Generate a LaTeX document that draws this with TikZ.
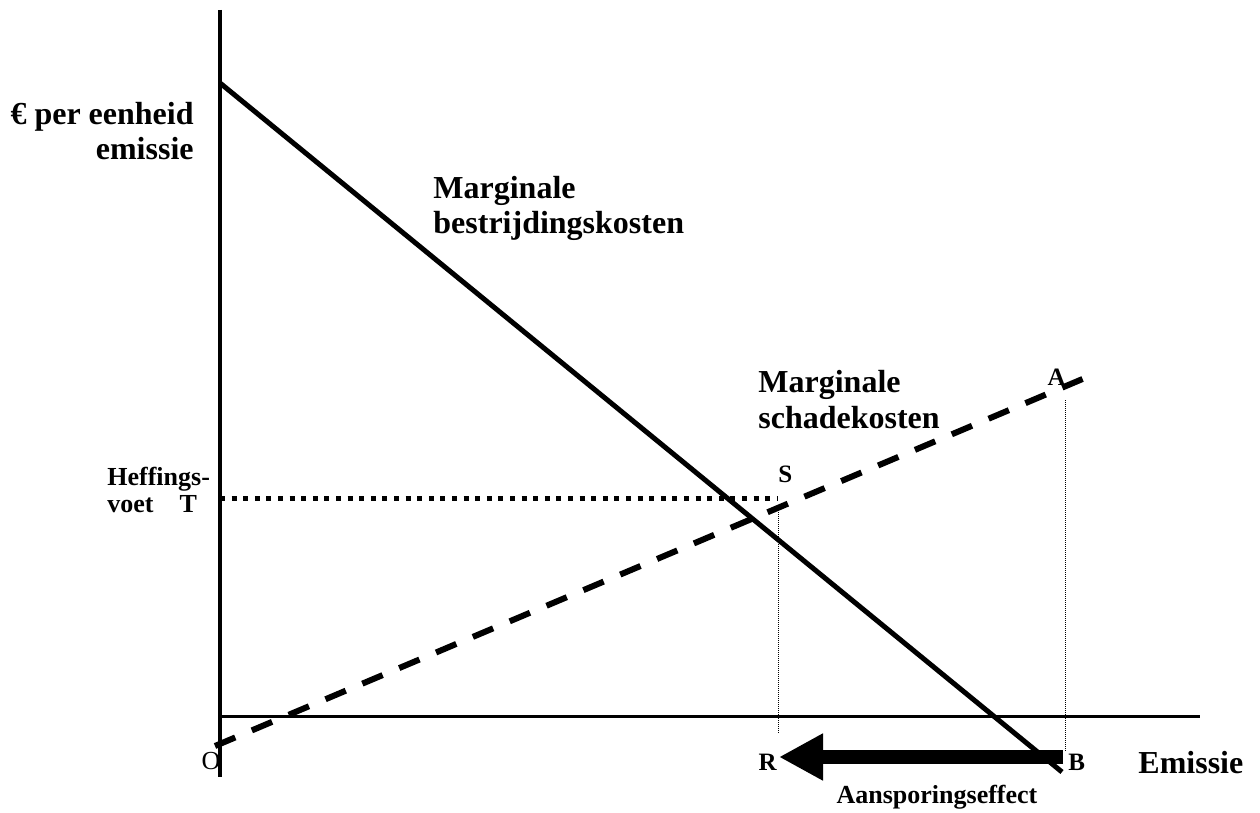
\documentclass[tikz,border=0pt]{standalone}
\usepackage{fontspec}
\setmainfont{Liberation Serif}
\usetikzlibrary{arrows.meta}

\begin{document}
\begin{tikzpicture}[x=0.5pt, y=-0.5pt]


\tikzstyle{axis_style} = [draw=black, line width=2]
\tikzstyle{xaxis_style} = [draw=black, line width=1.5]
\tikzstyle{mbk_style} = [draw=black, line width=2.5]
\tikzstyle{msk_style} = [draw=black, line width=3, dash pattern=on 11pt off 9pt]
\tikzstyle{tax_style} = [draw=black, line width=2.5, dash pattern=on 2.5pt off 3.3pt]
\tikzstyle{guide_style} = [draw=black, line width=0.5, dash pattern=on 0.5pt off 0.5pt]
\tikzstyle{arrow_style} = [draw=black, line width=7, -{Triangle[length=22pt, width=22pt]}]
\tikzstyle{label_style} = [inner sep=0pt, font=\bfseries\fontsize{16}{17.5}\selectfont]
\tikzstyle{small_style} = [inner sep=0pt, font=\bfseries\fontsize{13}{13.5}\selectfont]
\tikzstyle{point_style} = [inner sep=0pt, font=\bfseries\fontsize{12.5}{14}\selectfont]

\useasboundingbox (0,0) rectangle (1260,813);

% axes
\coordinate (ytop) at (220,10);
\coordinate (ybot) at (220,777);
\coordinate (xstart) at (220,716);
\coordinate (xend) at (1200,716);

% curves
\coordinate (mbk0) at (220,83);
\coordinate (mbk1) at (1062,772);
\coordinate (msk0) at (215,746);
\coordinate (msk1) at (1092,375);

% guides
\coordinate (t0) at (220,498);
\coordinate (t1) at (778,498);
\coordinate (r0) at (778,510);
\coordinate (r1) at (778,733);
\coordinate (a0) at (1065,400);
\coordinate (a1) at (1065,752);
\coordinate (pb) at (1063,757);
\coordinate (pr) at (779,757);

\node[label_style, anchor=base east, align=right] (unit) at (194,160) {€ per eenheid\\emissie};
\node[label_style, anchor=base west, align=left] (mbk) at (433,234) {Marginale\\bestrijdingskosten};
\node[label_style, anchor=base west, align=left] (msk) at (758,428) {Marginale\\schadekosten};
\node[small_style, anchor=base west, align=left] (tax) at (107,512) {Heffings-\\voet\hspace{1em}T};
\node[label_style, anchor=base west] (emis) at (1138,773) {Emissie};
\node[small_style, anchor=base] (effect) at (937,803) {Aansporingseffect};

\node[inner sep=0pt, font=\fontsize{13}{15}\selectfont] (O) at (211,761) {O};
\node[point_style, anchor=base east] (R) at (777,770) {R};
\node[point_style, anchor=base west] (B) at (1068,770) {B};
\node[point_style, anchor=base west] (S) at (778,482) {S};
\node[point_style, anchor=base east] (A) at (1066,386) {A};

\draw[axis_style] (ytop) -- (ybot);
\draw[xaxis_style] (xstart) -- (xend);

\draw[tax_style] (t0) -- (t1);
\draw[guide_style] (r0) -- (r1);
\draw[guide_style] (a0) -- (a1);

\draw[msk_style] (msk0) -- (msk1);
\draw[arrow_style] (pb) -- (pr);
\draw[mbk_style] (mbk0) -- (mbk1);


\end{tikzpicture}
\end{document}
